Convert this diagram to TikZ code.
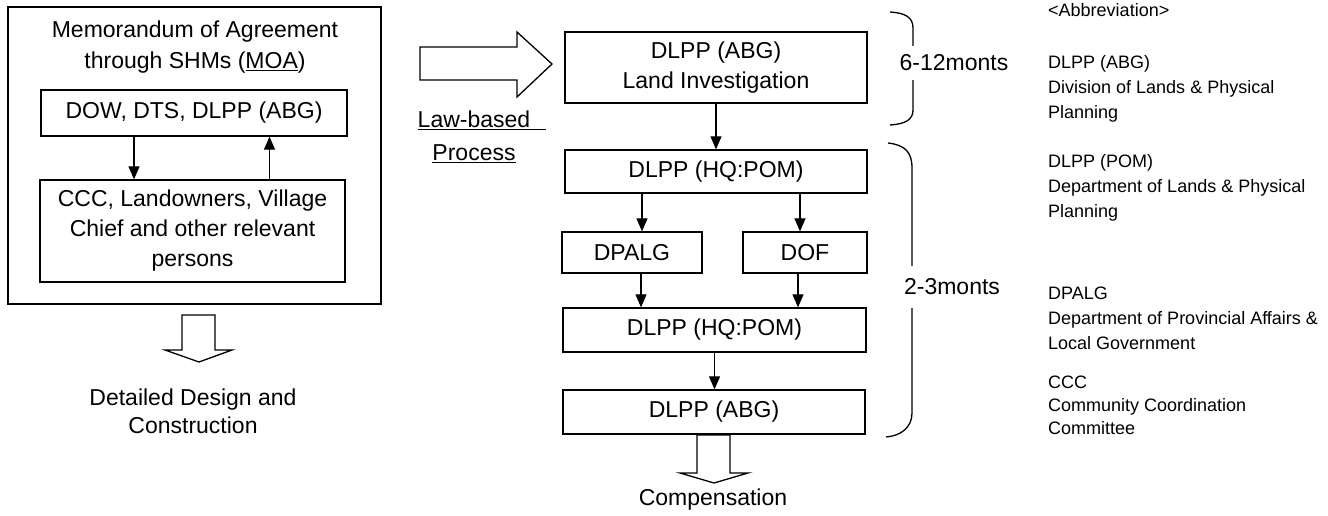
\documentclass[tikz,border=0pt]{standalone}
\usepackage{fontspec}
\setmainfont{Liberation Sans}
\usetikzlibrary{arrows.meta}

\begin{document}
\begin{tikzpicture}[x=1pt,y=1pt,yscale=-1,
  box/.style={draw,line width=1.3pt,inner sep=0pt,align=center,font=\fontsize{23}{30}\selectfont},
  arr/.style={line width=1.1pt,-{Triangle[length=13pt,width=11pt]}},
  hollow/.style={draw,line width=1.3pt,line join=miter,fill=white},
  brace/.style={line width=1.3pt},
  lbl/.style={inner sep=0pt,align=center,font=\fontsize{23}{28}\selectfont},
  abbr/.style={anchor=west,inner sep=0pt,align=left,font=\fontsize{18}{25}\selectfont}]
\useasboundingbox (0,0) rectangle (1328,516);

% MOA box
\node[box,minimum width=373,minimum height=297] (moa) at (194.5,155.5) {};
\node[lbl,font=\fontsize{23}{31}\selectfont] (moatitle) at (195,47.5) {Memorandum of Agreement\\through SHMs (\underline{MOA})};
\node[box,minimum width=306,minimum height=46] (dow) at (194,113) {DOW, DTS, DLPP (ABG)};
\node[box,minimum width=305,minimum height=102] (ccc) at (192.5,231) {CCC, Landowners, Village\\Chief and other relevant\\persons};
\draw[arr] ([xshift=-60]dow.south) -- ([xshift=-60]dow.south |- ccc.north);
\draw[arr] ([xshift=77]ccc.north) -- ([xshift=77]ccc.north |- dow.south);

% hollow arrow to design
\draw[hollow] (182,315) -- (215,315) -- (215,350) -- (232,350) -- (199,362) -- (165,350) -- (182,350) -- cycle;
\node[lbl] (design) at (193,411) {Detailed Design and\\Construction};

% hollow arrow to law-based process
\draw[hollow] (420,47) -- (517,47) -- (517,32) -- (552,64) -- (517,97) -- (517,80) -- (420,80) -- cycle;
\node[lbl,font=\fontsize{23}{33}\selectfont] (law) at (474,137) {\underline{Law-based}\rlap{\underline{\hspace{16pt}}}\\\underline{Process}};

% law-based process boxes
\node[box,minimum width=302,minimum height=71] (invest) at (716,67.5) {DLPP (ABG)\\Land Investigation};
\node[box,minimum width=302,minimum height=43] (hqa) at (716,171.5) {DLPP (HQ:POM)};
\node[box,minimum width=140,minimum height=41] (dpalg) at (632,252.5) {DPALG};
\node[box,minimum width=124,minimum height=41] (dof) at (805,252.5) {DOF};
\node[box,minimum width=303,minimum height=44] (hqb) at (714.5,330) {DLPP (HQ:POM)};
\node[box,minimum width=302,minimum height=44] (abg) at (714,412) {DLPP (ABG)};

\draw[arr] (invest.south) -- (hqa.north);
\draw[arr] ([xshift=10]dpalg.north |- hqa.south) -- ([xshift=10]dpalg.north);
\draw[arr] ([xshift=-5]dof.north |- hqa.south) -- ([xshift=-5]dof.north);
\draw[arr] ([xshift=9]dpalg.south) -- ([xshift=9]dpalg.south |- hqb.north);
\draw[arr] ([xshift=-7]dof.south) -- ([xshift=-7]dof.south |- hqb.north);
\draw[arr] (hqb.south) -- (hqb.south |- abg.north);

% hollow arrow to compensation
\draw[hollow] (697,435) -- (730,435) -- (730,473) -- (748,473) -- (714,483) -- (680,473) -- (697,473) -- cycle;
\node[lbl] (comp) at (713,500) {Compensation};

% braces
\draw[brace] (890,12) .. controls (905,13) and (913,17) .. (913,28) -- (913,110) .. controls (913,120) and (905,124) .. (890,125);
\node[lbl,fill=white,inner xsep=0pt,inner ysep=9pt] (t612) at (954,63) {6-12monts};
\draw[brace] (888,143) .. controls (905,145) and (912,152) .. (912,168) -- (912,413) .. controls (912,428) and (900,436) .. (886,437);
\node[lbl,fill=white,inner xsep=0pt,inner ysep=13pt] (t23) at (952,287) {2-3monts};

% abbreviations
\node[abbr] (abbrhead) at (1048,10) {<Abbreviation>};
\node[abbr] (abbrabg) at (1048,89) {DLPP (ABG)\\Division of Lands \& Physical\\Planning};
\node[abbr] (abbrpom) at (1048,188) {DLPP (POM)\\Department of Lands \& Physical\\Planning};
\node[abbr] (abbrdpalg) at (1048,318) {DPALG\\Department of Provincial Affairs \&\\Local Government};
\node[abbr,font=\fontsize{18}{23}\selectfont] (abbrccc) at (1048,405) {CCC\\Community Coordination\\Committee};

\end{tikzpicture}
\end{document}
